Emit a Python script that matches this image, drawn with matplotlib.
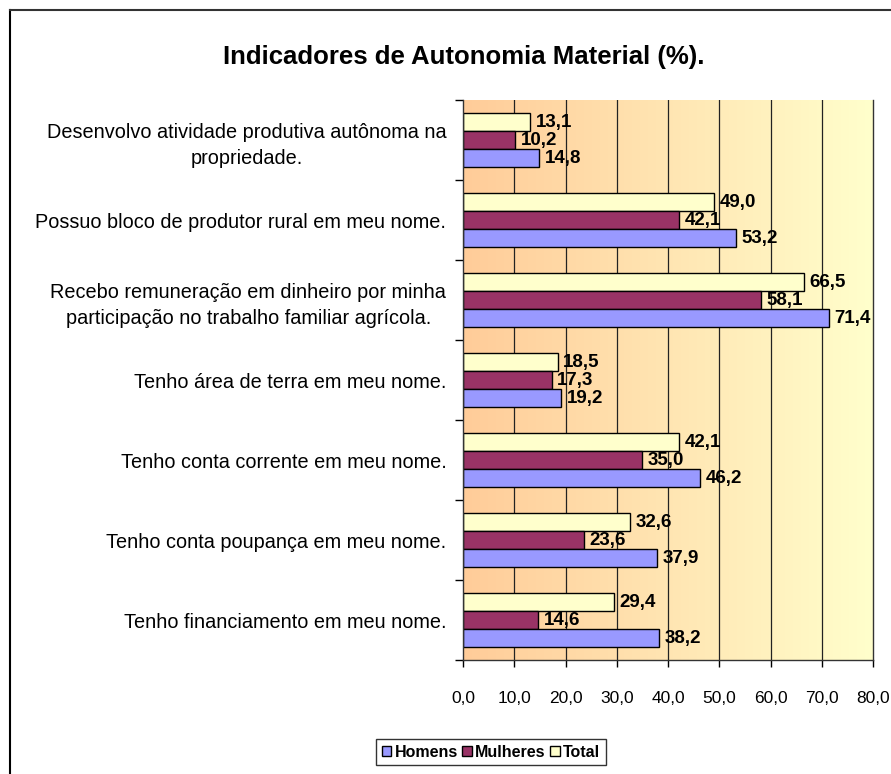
import matplotlib
matplotlib.use("Agg")
import matplotlib.pyplot as plt
import numpy as np
from matplotlib.lines import Line2D

plt.rcParams['font.family'] = ['Liberation Sans', 'DejaVu Sans']

# categories, top to bottom
categorias = [
    "Desenvolvo atividade produtiva autônoma na\npropriedade.",
    "Possuo bloco de produtor rural em meu nome.",
    "Recebo remuneração em dinheiro por minha\nparticipação no trabalho familiar agrícola.",
    "Tenho área de terra em meu nome.",
    "Tenho conta corrente em meu nome.",
    "Tenho conta poupança em meu nome.",
    "Tenho financiamento em meu nome.",
]
homens = [14.8, 53.2, 71.4, 19.2, 46.2, 37.9, 38.2]
mulheres = [10.2, 42.1, 58.1, 17.3, 35.0, 23.6, 14.6]
total = [13.1, 49.0, 66.5, 18.5, 42.1, 32.6, 29.4]
xticks = [0, 10, 20, 30, 40, 50, 60, 70, 80]

fig = plt.figure(figsize=(8.91, 7.74), dpi=100)
ax = fig.add_axes([463/891, 1-660/774, (873-463)/891, (660-100)/774])

n = len(categorias)
y = np.arange(n)[::-1]
h = 0.225

# gradient background
grad = np.linspace(0, 1, 256).reshape(1, -1)
c0 = np.array([1.0, 0.80, 0.60])
c1 = np.array([1.0, 1.0, 0.80])
img = c0[None, None, :] * (1 - grad[..., None]) + c1[None, None, :] * grad[..., None]
ax.imshow(img, extent=[0, 80, -0.5, n - 0.5], aspect='auto', zorder=0)

for xv in xticks[1:-1]:
    ax.axvline(xv, color='#222222', lw=0.9, zorder=1)

series = [(total, '#FFFFCC', 'Total', h), (mulheres, '#993366', 'Mulheres', 0), (homens, '#9999FF', 'Homens', -h)]
bars = {}
for vals, col, name, off in series:
    b = ax.barh(y + off, vals, height=h, color=col, edgecolor='black', lw=1.0, label=name, zorder=2)
    bars[name] = b
    ax.bar_label(b, labels=[f"{v:.1f}".replace('.', ',') for v in vals], padding=4,
                 fontsize=13.5, fontweight='bold', zorder=3)

ax.set_xlim(0, 80)
ax.set_ylim(-0.5, n - 0.5)
ax.set_xticks(xticks, [f"{v:.1f}".replace('.', ',') for v in xticks])
ax.set_yticks(y, categorias)
for t in ax.get_yticklabels():
    t.set_multialignment('center')
    t.set_linespacing(1.45)
ax.set_yticks(np.arange(n + 1) - 0.5, minor=True)
ax.tick_params(axis='y', which='major', length=0, pad=12, labelsize=14.3)
ax.tick_params(axis='y', which='minor', length=5.5, width=1)
ax.tick_params(axis='x', length=5, width=1, pad=17, labelsize=12.5)
for s in ax.spines.values():
    s.set_color('#333333')
    s.set_linewidth(1)
ax.spines['top'].set_visible(False)

ax.set_title("Indicadores de Autonomia Material (%).", fontsize=18.5, fontweight='bold',
             x=(464-463)/(873-463), y=1.0, pad=26)

handles = [bars['Homens'], bars['Mulheres'], bars['Total']]
leg = fig.legend(handles, ['Homens', 'Mulheres', 'Total'], loc='upper center',
                 bbox_to_anchor=(491/891, 1-739/774), ncol=3, frameon=True, fancybox=False,
                 prop={'weight': 'bold', 'size': 11.5}, handlelength=0.6, handleheight=0.6,
                 handletextpad=0.2, columnspacing=0.3, borderpad=0.35, borderaxespad=0,
                 edgecolor='black')
leg.get_frame().set_linewidth(1)

# outer chart frame
fig.add_artist(Line2D([10/891, 10/891], [0, 1-10/774], color='black', lw=1.5, transform=fig.transFigure))
fig.add_artist(Line2D([10/891, 1], [1-10/774, 1-10/774], color='#333333', lw=1.5, transform=fig.transFigure))

fig.savefig("out.png", dpi=100)
